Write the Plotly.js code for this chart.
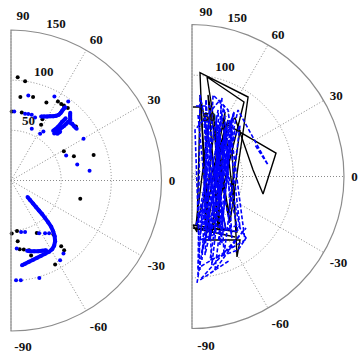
<!DOCTYPE html>
<html>
<head>
<meta charset="utf-8">
<script src="https://cdn.plot.ly/plotly-3.0.1.min.js"></script>
<style>html,body{margin:0;padding:0;background:#fff;}#chart{width:363px;height:354px;}</style>
</head>
<body>
<div id="chart"></div>
<script>
// ---- Left panel: scattered points ----
const leftBlackR = [103.0,99.8,83.7,86.1,68.8,68.6,85.4,91.6,91.1,91.5,91.8,68.7,63.1,84.1,60.2,67.2,86.2,71.4,52.8,50.6,58.2,68.2,60.9,69.1,70.0,71.8,77.4,94.6,82.4,87.4];
const leftBlackTheta = [86.3,81.9,83.6,75.2,89.4,81.0,65.6,59.3,56.7,54.8,51.9,62.9,61.6,39.7,29.0,21.1,17.2,-14.8,-89.2,-83.2,-63.8,-51.7,-83.7,-82.8,-79.5,-75.5,-75.0,-62.3,-52.6,-52.7];

const leftBlueR = [86.5,68.9,68.0,68.4,68.7,67.2,94.3,97.3,54.8,58.5,55.5,83.4,60.3,67.9,78.9,68.0,52.2,53.1,59.5,62.5,64.8,93.4,89.6,99.6,100.0,101.2];
const leftBlueTheta = [78.5,87.3,78.1,75.4,72.5,69.1,62.7,54.1,58.0,56.5,68.1,29.9,24.3,13.5,7.1,-85.2,-78.9,-74.7,-61.9,-57.1,-54.1,-58.4,-54.3,-87.1,-84.4,-73.8];

// dense blue tracks (left panel)
const hookR = [70.5,71.8,73.3,74.9,76.6,78.6,80.9,83.7,86.2,88.7,90.8];
const hookTheta = [64.8,62.6,60.6,58.6,56.7,55.1,54.0,53.7,53.7,53.7,53.5];

const clusterR = [63.7,66.2,68.6,71.1,73.6,76.0,78.9,81.7,84.5,87.4,89.6,null,81.7,83.1,83.0,83.3,null,64.9,71.2,77.6,82.5,null,65.4,68.9];
const clusterTheta = [47.5,47.1,46.8,46.4,46.1,45.8,45.8,45.7,45.7,47.6,48.8,null,45.7,42.8,40.6,38.2,null,49.7,48.7,48.9,48.7,null,45.3,44.7];

const arcR = [23.3,27.2,31.8,36.4,41.0,45.6,50.6,55.6,61.0,65.7,70.5,74.8,77.9,79.8,80.5,80.5,80.8,81.3,82.0,83.0,84.2,85.2,null,77.8,76.6,75.5,74.2,73.0,71.8];
const arcTheta = [-45.0,-45.7,-46.3,-46.7,-47.0,-47.2,-47.8,-48.3,-49.0,-50.3,-51.9,-54.0,-56.5,-59.1,-61.8,-65.0,-68.2,-71.3,-74.4,-77.5,-80.4,-82.6,null,-63.3,-66.1,-69.0,-71.9,-74.9,-77.1];

// ---- Right panel: tracks ----
const blackTracksR = [
  [49.8,102.8,96.0,58.5,99.3,89.7,58.2],
  [68.6,69.1,55.0,47.9,70.5,60.4,64.0,78.6,91.0,47.4],
  [62.0,86.1,72.2,60.6,71.7,46.8,64.0],
  [52.6,44.8,71.5,57.0,82.0,52.0,66.0],
  [66.1,48.0,66.1,65.2,80.8,62.6,50.9,73.3]
];
const blackTracksTheta = [
  [-73.9,85.6,54.8,-50.1,81.4,55.1,-70.2],
  [89.2,83.4,-84.9,-88.8,-51.0,57.4,-78.4,-52.9,-60.8,33.5],
  [55.0,15.6,-13.8,6.1,53.7,61.0,-64.4],
  [65.6,-73.4,62.9,-63.2,78.9,-46.9,44.1],
  [74.4,-85.3,57.5,-74.2,84.4,-57.6,-88.9,-54.6]
];
const blueTracksR = [
  [69.7,71.8,90.5,81.6,74.7,83.1,78.5,79.8,75.9,69.5],
  [105.2,36.6,62.1,95.0,74.7,73.7,102.5,90.6],
  [83.0,63.3,62.5,75.2,52.0,69.5,62.4,73.8],
  [63.2,66.0,80.8,85.6,84.3,42.6,80.4,46.0,92.6],
  [59.2,54.6,60.9,61.7,70.0,60.5,70.5,34.0],
  [61.0,65.2,67.5,58.3,77.3,72.4,66.1,83.0],
  [76.8,52.4,66.1,89.6,58.9,62.6,80.8,97.4],
  [58.8,73.0,76.0,48.0,69.5,83.7,48.3,50.3],
  [58.9,50.3,76.8,52.4,76.0,45.6,71.2,58.8]
];
const blueTracksTheta = [
  [86.8,75.7,-86.2,-50.2,61.6,75.5,-80.6,55.3,8.6,26.6],
  [-87.3,45.5,50.5,-76.2,-50.6,-43.6,-85.6,-65.5],
  [69.1,-73.7,47.2,-82.5,43.8,-47.0,67.7,-66.3],
  [-82.8,-46.5,-48.7,-58.0,-77.8,37.9,69.9,86.3,-85.1],
  [70.5,-75.3,56.6,-69.4,55.6,-60.7,68.6,-76.6],
  [84.4,-74.2,64.0,-82.2,65.9,-57.0,74.4,-83.2],
  [79.6,-75.8,57.5,-77.3,78.4,-57.6,84.4,-86.5],
  [66.2,-67.8,56.9,-85.3,47.0,-67.8,58.1,-63.2],
  [78.4,-63.2,79.6,-75.8,56.9,-80.0,-50.4,66.2]
];

// ---- Axis ticks ----
const angleTicks = [-90,-60,-30,0,30,60,90];
const angleLabels = ['','-60','-30','0','30','60',''];   // ±90 drawn by the edge-label overlay
const edgeTicks = [-90,90];
const edgeLabels = ['-90','90'];
const radialTicks = [50,100,150];
const radialLabels = ['50','100','150'];

const BLUE = 'rgb(0,0,255)';
const traces = [];
traces.push({type:'scatterpolar', mode:'markers', r:leftBlackR, theta:leftBlackTheta, subplot:'polar', marker:{color:'black', size:4}});
traces.push({type:'scatterpolar', mode:'markers', r:leftBlueR, theta:leftBlueTheta, subplot:'polar', marker:{color:BLUE, size:4}});
[[hookR,hookTheta],[clusterR,clusterTheta],[arcR,arcTheta]].forEach(([r,t]) => {
  traces.push({type:'scatterpolar', mode:'lines+markers', r:r, theta:t, subplot:'polar', connectgaps:false,
    line:{color:BLUE, width:4}, marker:{color:BLUE, size:4}});
});
blackTracksR.forEach((r,i) => {
  traces.push({type:'scatterpolar', mode:'lines', r:r, theta:blackTracksTheta[i], subplot:'polar2',
    line:{color:'black', width:1.4}});
});
blueTracksR.forEach((r,i) => {
  traces.push({type:'scatterpolar', mode:'lines', r:r, theta:blueTracksTheta[i], subplot:'polar2',
    line:{color:BLUE, width:1.6, dash:'4px,2px'}});
});
// empty traces that carry the label overlays
['polar3','polar4','polar5','polar6'].forEach(sp => {
  traces.push({type:'scatterpolar', mode:'markers', r:[], theta:[], subplot:sp, hoverinfo:'skip'});
});

const tickFont = {family:'"Liberation Serif", serif', size:13, color:'#111', weight:'bold'};
function polarCfg(xd, yd) {
  return {
    domain:{x:xd, y:yd},
    sector:[-90,90],
    bgcolor:'rgba(0,0,0,0)',
    radialaxis:{range:[0,150], tickmode:'array', tickvals:radialTicks, ticktext:radialLabels,
      angle:80, showticklabels:false, showline:false, ticks:'',
      gridcolor:'#8a8a8a', griddash:'1px,2px', gridwidth:1},
    angularaxis:{thetaunit:'degrees', rotation:0, direction:'counterclockwise',
      tickmode:'array', tickvals:angleTicks, ticktext:angleLabels,
      ticks:'outside', ticklen:4, tickcolor:'rgba(0,0,0,0)', tickfont:tickFont,
      showline:true, linecolor:'#8c8c8c', linewidth:1.2,
      gridcolor:'#8a8a8a', griddash:'1px,2px', gridwidth:1}
  };
}
function radialLabelCfg(xd, yd) {
  return {
    domain:{x:xd, y:yd},
    sector:[-90,90],
    bgcolor:'rgba(0,0,0,0)',
    radialaxis:{range:[0,150], tickmode:'array', tickvals:radialTicks, ticktext:radialLabels,
      angle:76, tickangle:76, side:'clockwise', showline:false, showgrid:false, ticks:'', tickfont:tickFont},
    angularaxis:{visible:false, showgrid:false, showline:false, showticklabels:false, ticks:''}
  };
}
function edgeLabelCfg(xd, yd) {
  return {
    domain:{x:xd, y:yd},
    sector:[-90,90],
    bgcolor:'rgba(0,0,0,0)',
    radialaxis:{range:[0,150], visible:false, showgrid:false, showline:false, showticklabels:false, ticks:''},
    angularaxis:{thetaunit:'degrees', rotation:0, direction:'counterclockwise',
      tickmode:'array', tickvals:edgeTicks, ticktext:edgeLabels,
      ticks:'outside', ticklen:4, tickcolor:'rgba(0,0,0,0)', tickfont:tickFont,
      showline:false, showgrid:false}
  };
}
const W = 363, H = 354, dx = 8, dy = 15;
const L = {x0:11, x1:161.5, yt:30, yb:331};
const R = {x0:192, x1:344, yt:24.5, yb:328.5};
const dom = (p, sx, sy) => ({x:[(p.x0+sx)/W, (p.x1+sx)/W], y:[1-(p.yb+sy)/H, 1-(p.yt+sy)/H]});
function mk(fn, d) { return fn(d.x, d.y); }
const layout = {
  width:W, height:H, margin:{l:0,r:0,t:0,b:0},
  paper_bgcolor:'#fff', showlegend:false,
  polar:  mk(polarCfg, dom(L, 0, 0)),
  polar2: mk(polarCfg, dom(R, 0, 0)),
  polar3: mk(radialLabelCfg, dom(L, -dx, -dy)),
  polar4: mk(radialLabelCfg, dom(R, -dx, -dy)),
  polar5: mk(edgeLabelCfg, dom(L, 12, 0)),
  polar6: mk(edgeLabelCfg, dom(R, 14, 1))
};
Plotly.newPlot('chart', traces, layout, {staticPlot:true, displayModeBar:false});
</script>
</body>
</html>
